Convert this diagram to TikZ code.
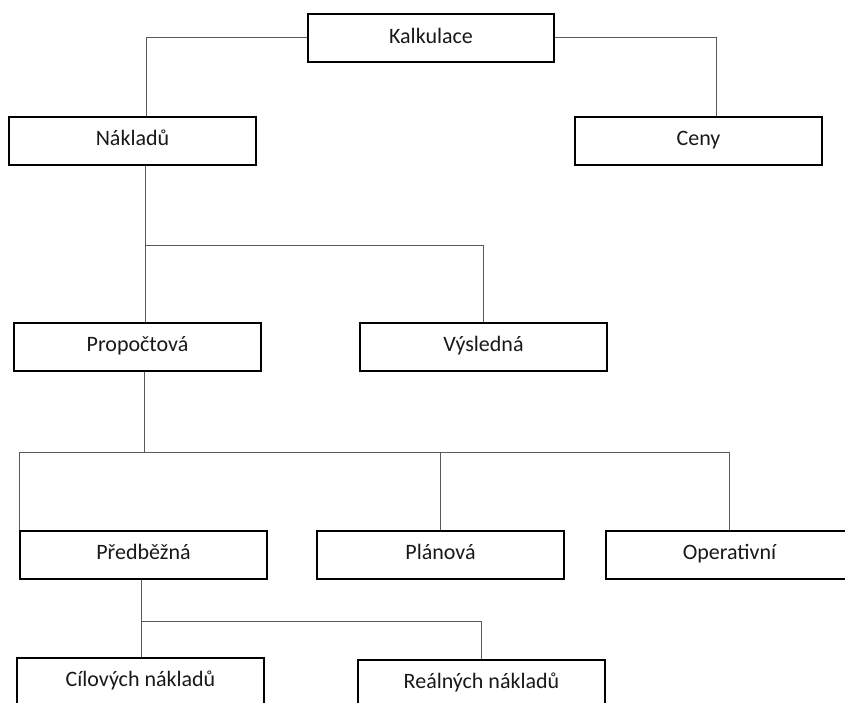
\documentclass[tikz,border=0pt]{standalone}
\usepackage{fontspec}
\setmainfont{Carlito}
\begin{document}
\begin{tikzpicture}[x=1pt,y=-1pt,
  box/.style={draw=black, line width=2pt, fill=white, inner sep=0pt,
    minimum width=247pt, minimum height=48pt,
    text height=18pt, text depth=10pt,
    font=\fontsize{22}{26}\selectfont, text=black!90},
  link/.style={draw=black!65, line width=1pt}]
\useasboundingbox (0,0) rectangle (845,702);
\clip (0,0) rectangle (845,702);
% boxes
\node[box, minimum width=246pt, text height=20pt] (kal) at (431,38) {Kalkulace};
\node[box] (nak) at (132.5,141) {Nákladů};
\node[box] (ceny) at (698.5,141) {Ceny};
\node[box] (prop) at (137.5,347) {Propočtová};
\node[box] (vys) at (483.5,347) {Výsledná};
\node[box] (pred) at (143.5,555) {Předběžná};
\node[box] (plan) at (440.5,555) {Plánová};
\node[box] (oper) at (729.5,555) {Operativní};
\node[box] (cil) at (140.5,682) {Cílových nákladů};
\node[box] (real) at (481.5,684) {Reálných nákladů};
% junctions
\coordinate (j1) at (145.5,245.5);
\coordinate (j2) at (144.5,452.5);
\coordinate (j3) at (141.5,621.5);
% connectors
\draw[link] ([yshift=0.5pt]kal.west) -| ([xshift=14pt]nak.north);
\draw[link] ([yshift=0.5pt]kal.east) -| ([xshift=18pt]ceny.north);
\draw[link] (j1 |- nak.south) -- (j1 |- prop.north);
\draw[link] (j1) -| (vys.north);
\draw[link] (j2 |- prop.south) -- (j2);
\draw[link] (j2) -| ([xshift=0.5pt]pred.north west);
\draw[link] (j2) -| (oper.north);
\draw[link] (plan.north |- j2) -- (plan.north);
\draw[link] (j3 |- pred.south) -- (j3) -| (real.north);
\draw[link] (j3) -- (j3 |- cil.north);
\end{tikzpicture}
\end{document}
